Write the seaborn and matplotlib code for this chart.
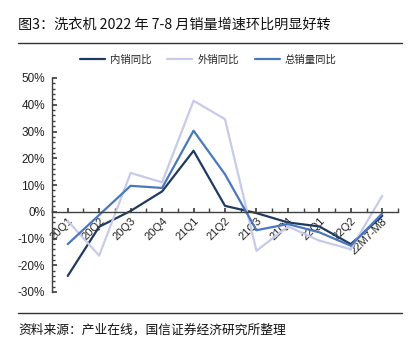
import numpy as np
import pandas as pd
import matplotlib
matplotlib.use("Agg")
import matplotlib.pyplot as plt
from matplotlib.ticker import MultipleLocator, FuncFormatter
import seaborn as sns

# Quarterly / monthly year-on-year growth of washing machine sales (%)
periods = ["20Q1", "20Q2", "20Q3", "20Q4", "21Q1", "21Q2",
           "21Q3", "21Q4", "22Q1", "22Q2", "22M7-M8"]
domestic = [-24.0, -5.6, 0.3, 7.6, 22.8, 2.2, -0.5, -4.0, -5.5, -12.1, -1.5]
export = [-3.4, -16.4, 14.5, 11.0, 41.5, 34.6, -14.6, -5.5, -10.8, -14.0, 6.0]
total = [-12.1, -1.2, 9.7, 8.9, 30.3, 14.0, -6.9, -4.6, -7.7, -12.7, -0.6]
series_names = ["内销同比", "外销同比", "总销量同比"]
colors = ["#1F3A5F", "#C8CAEA", "#4A78BE"]

sns.set_theme(style="white")
plt.rcParams["font.family"] = ["Liberation Sans", "Noto Sans CJK SC", "DejaVu Sans"]
cjk = ["Noto Sans CJK SC", "DejaVu Sans"]

df = pd.DataFrame({"pos": np.arange(len(periods)),
                   series_names[0]: domestic,
                   series_names[1]: export,
                   series_names[2]: total})
long = df.melt(id_vars="pos", var_name="series", value_name="yoy")

fig = plt.figure(figsize=(4.15, 3.48), dpi=100)
ax = fig.add_axes([52 / 415, 1 - 292 / 348, 346 / 415, 214 / 348])

sns.lineplot(data=long, x="pos", y="yoy", hue="series",
             hue_order=series_names, palette=colors, linewidth=1.6,
             ax=ax, legend=False)

ax.set_xlim(-0.5, len(periods) - 0.5)
ax.set_ylim(-30, 50)
ax.set_xlabel("")
ax.set_ylabel("")

# Axes: left spine plus a baseline at zero
for side in ["top", "right"]:
    ax.spines[side].set_visible(False)
ax.spines["bottom"].set_position(("data", 0))
ax.spines["bottom"].set_color("#404040")
ax.spines["left"].set_color("#404040")
ax.spines["bottom"].set_linewidth(1.0)
ax.spines["left"].set_linewidth(1.0)

ax.set_xticks(np.arange(len(periods)))
ax.set_xticklabels(periods, rotation=45, ha="right", rotation_mode="anchor",
                   fontsize=8, color="#222222")
ax.xaxis.set_minor_locator(MultipleLocator(0.5))
ax.tick_params(axis="x", which="both", direction="in", length=3,
               color="#404040", pad=3, bottom=True)

ax.yaxis.set_major_locator(MultipleLocator(10))
ax.yaxis.set_minor_locator(MultipleLocator(2))
ax.yaxis.set_major_formatter(FuncFormatter(lambda v, p: f"{v:.0f}%"))
ax.tick_params(axis="y", which="major", direction="in", length=3.5,
               color="#404040", labelsize=8.5, labelcolor="#222222", left=True, pad=5)
ax.tick_params(axis="y", which="minor", direction="in", length=2,
               color="#404040", left=True)
ax.grid(False)

# Legend across the top
handles = [plt.Line2D([], [], color=c, linewidth=1.6) for c in colors]
fig.legend(handles, series_names, loc="center", ncol=3,
           bbox_to_anchor=(0.502, 1 - 60 / 348), frameon=False,
           prop={"family": cjk, "size": 7.5}, handlelength=2.4,
           handletextpad=0.5, columnspacing=1.5)

# Title, rules and source note
fig.text(18 / 415, 1 - 25 / 348, "图3：洗衣机 2022 年 7-8 月销量增速环比明显好转",
         fontsize=10.2, family=cjk, va="center", ha="left", color="#111111")
fig.add_artist(plt.Line2D([18 / 415, 402 / 415], [1 - 43 / 348, 1 - 43 / 348],
                          color="#333333", linewidth=1.0))
fig.add_artist(plt.Line2D([18 / 415, 402 / 415], [1 - 313 / 348, 1 - 313 / 348],
                          color="#333333", linewidth=1.0))
fig.text(18 / 415, 1 - 330 / 348, "资料来源：产业在线，国信证券经济研究所整理",
         fontsize=9.2, family=cjk, va="center", ha="left", color="#111111")

fig.savefig("out.png", dpi=100)
